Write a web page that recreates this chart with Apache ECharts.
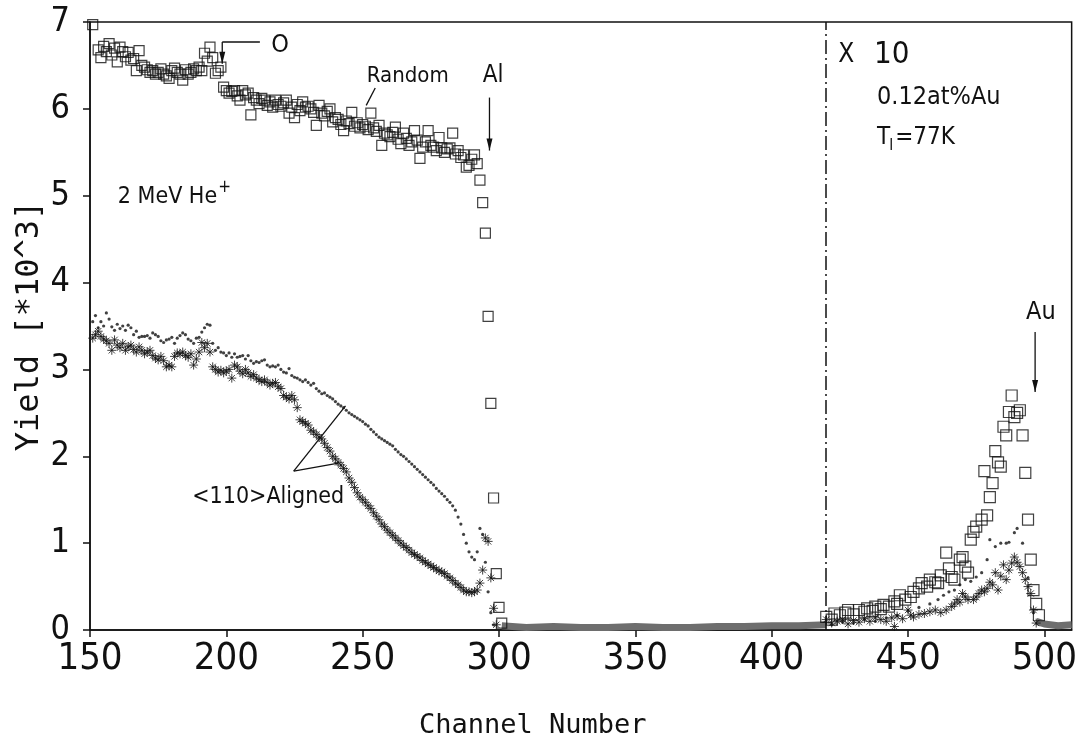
<!DOCTYPE html>
<html><head><meta charset="utf-8">
<script src="https://cdn.jsdelivr.net/npm/echarts@6/dist/echarts.min.js"></script>
<style>html,body{margin:0;padding:0;background:#fff}#c{width:1080px;height:755px}</style>
</head><body><div id="c"></div>
<script>
// ---------- data (channel, yield ×10^3) ----------
const xTicks = [150, 200, 250, 300, 350, 400, 450, 500];
const yTicks = [0, 1, 2, 3, 4, 5, 6, 7];

const randomPts = [[151,6.97],[153,6.68],[154,6.59],[155,6.72],[156,6.66],[157,6.75],[158,6.62],[159,6.70],[160,6.54],[161,6.71],[162,6.66],[163,6.60],[164,6.65],[165,6.56],[166,6.58],[167,6.44],[168,6.67],[169,6.50],[170,6.48],[171,6.45],[172,6.42],[173,6.44],[174,6.40],[175,6.42],[176,6.46],[177,6.40],[178,6.38],[179,6.35],[180,6.44],[181,6.47],[182,6.42],[183,6.40],[184,6.33],[185,6.45],[186,6.40],[187,6.42],[188,6.46],[189,6.44],[190,6.48],[191,6.44],[192,6.64],[193,6.55],[194,6.71],[195,6.59],[196,6.41],[197,6.44],[198,6.48],[199,6.25],[200,6.21],[201,6.18],[202,6.20],[203,6.21],[204,6.15],[205,6.10],[206,6.21],[207,6.16],[208,6.18],[209,5.93],[210,6.13],[211,6.10],[212,6.06],[213,6.12],[214,6.10],[215,6.04],[216,6.08],[217,6.02],[218,6.10],[219,6.05],[220,6.03],[221,6.07],[222,6.10],[223,5.95],[224,6.02],[225,5.90],[226,6.05],[227,5.98],[228,6.08],[229,6.02],[230,6.03],[231,6.00],[232,5.96],[233,5.81],[234,6.04],[235,5.95],[236,5.92],[237,5.97],[238,6.00],[239,5.85],[240,5.90],[241,5.88],[242,5.82],[243,5.75],[244,5.86],[245,5.83],[246,5.96],[247,5.80],[248,5.84],[249,5.78],[250,5.82],[251,5.80],[252,5.76],[253,5.95],[254,5.78],[255,5.74],[256,5.81],[257,5.58],[258,5.72],[259,5.70],[260,5.68],[261,5.73],[262,5.79],[263,5.65],[264,5.60],[265,5.72],[266,5.66],[267,5.58],[268,5.62],[269,5.75],[270,5.64],[271,5.43],[272,5.56],[273,5.62],[274,5.75],[275,5.58],[276,5.56],[277,5.52],[278,5.67],[279,5.55],[280,5.50],[281,5.54],[282,5.55],[283,5.72],[284,5.48],[285,5.52],[286,5.44],[287,5.47],[288,5.33],[289,5.35],[290,5.42],[291,5.47],[292,5.37],[293,5.18],[294,4.92],[295,4.57],[296,3.61],[297,2.61],[298,1.52],[299,0.65],[300,0.26],[301,0.08]];

const alignedStarPts = [[151,3.36],[152,3.40],[153,3.44],[154,3.38],[155,3.35],[156,3.33],[157,3.30],[158,3.22],[159,3.34],[160,3.28],[161,3.25],[162,3.30],[163,3.22],[164,3.26],[165,3.28],[166,3.23],[167,3.20],[168,3.26],[169,3.22],[170,3.18],[171,3.20],[172,3.22],[173,3.16],[174,3.13],[175,3.11],[176,3.15],[177,3.10],[178,3.03],[179,3.05],[180,3.03],[181,3.15],[182,3.19],[183,3.18],[184,3.20],[185,3.16],[186,3.14],[187,3.18],[188,3.05],[189,3.12],[190,3.20],[191,3.31],[192,3.25],[193,3.30],[194,3.20],[195,3.03],[196,3.00],[197,2.97],[198,2.99],[199,2.96],[200,2.98],[201,3.00],[202,2.90],[203,3.05],[204,3.03],[205,2.98],[206,2.95],[207,3.00],[208,2.96],[209,2.92],[210,2.94],[211,2.90],[212,2.88],[213,2.86],[214,2.88],[215,2.85],[216,2.82],[217,2.84],[218,2.85],[219,2.80],[220,2.78],[221,2.70],[222,2.68],[223,2.66],[224,2.70],[225,2.65],[226,2.56],[227,2.42],[228,2.40],[229,2.38],[230,2.36],[231,2.30],[232,2.28],[233,2.25],[234,2.22],[235,2.20],[236,2.15],[237,2.10],[238,2.06],[239,2.00],[240,1.97],[241,1.93],[242,1.90],[243,1.86],[244,1.82],[245,1.75],[246,1.70],[247,1.64],[248,1.58],[249,1.53],[250,1.50],[251,1.47],[252,1.43],[253,1.40],[254,1.35],[255,1.31],[256,1.27],[257,1.22],[258,1.19],[259,1.15],[260,1.12],[261,1.09],[262,1.06],[263,1.03],[264,1.00],[265,0.97],[266,0.95],[267,0.92],[268,0.89],[269,0.87],[270,0.85],[271,0.83],[272,0.80],[273,0.78],[274,0.76],[275,0.74],[276,0.72],[277,0.70],[278,0.68],[279,0.67],[280,0.65],[281,0.62],[282,0.60],[283,0.57],[284,0.54],[285,0.52],[286,0.49],[287,0.46],[288,0.44],[289,0.44],[290,0.43],[291,0.44],[292,0.46],[293,0.54],[294,0.69],[295,1.06],[296,1.02],[297,0.60],[298,0.25],[299,0.06]];

const alignedDotPts = [[151,3.55],[152,3.62],[153,3.48],[154,3.55],[155,3.50],[156,3.65],[157,3.58],[158,3.49],[159,3.45],[160,3.52],[161,3.47],[162,3.50],[163,3.45],[164,3.51],[165,3.48],[166,3.40],[167,3.44],[168,3.37],[169,3.38],[170,3.38],[171,3.39],[172,3.36],[173,3.42],[174,3.40],[175,3.38],[176,3.33],[177,3.31],[178,3.34],[179,3.35],[180,3.37],[181,3.30],[182,3.36],[183,3.39],[184,3.42],[185,3.40],[186,3.35],[187,3.33],[188,3.30],[189,3.36],[190,3.37],[191,3.43],[192,3.48],[193,3.52],[194,3.51],[195,3.30],[196,3.22],[197,3.25],[198,3.20],[199,3.19],[200,3.16],[201,3.19],[202,3.14],[203,3.18],[204,3.14],[205,3.15],[206,3.16],[207,3.12],[208,3.16],[209,3.10],[210,3.07],[211,3.09],[212,3.08],[213,3.10],[214,3.11],[215,3.05],[216,3.03],[217,3.04],[218,3.03],[219,3.05],[220,3.00],[221,2.97],[222,2.96],[223,3.01],[224,2.93],[225,2.91],[226,2.90],[227,2.88],[228,2.86],[229,2.88],[230,2.85],[231,2.82],[232,2.84],[233,2.78],[234,2.75],[235,2.72],[236,2.73],[237,2.70],[238,2.68],[239,2.66],[240,2.63],[241,2.60],[242,2.58],[243,2.56],[244,2.53],[245,2.50],[246,2.48],[247,2.46],[248,2.44],[249,2.42],[250,2.40],[251,2.37],[252,2.35],[253,2.31],[254,2.28],[255,2.25],[256,2.22],[257,2.20],[258,2.18],[259,2.16],[260,2.14],[261,2.12],[262,2.08],[263,2.05],[264,2.02],[265,2.00],[266,1.97],[267,1.94],[268,1.91],[269,1.88],[270,1.85],[271,1.82],[272,1.79],[273,1.76],[274,1.73],[275,1.70],[276,1.67],[277,1.63],[278,1.60],[279,1.57],[280,1.54],[281,1.50],[282,1.47],[283,1.43],[284,1.38],[285,1.30],[286,1.22],[287,1.10],[288,1.00],[289,0.90],[290,0.84],[291,0.81],[292,0.90],[293,1.17],[294,1.10],[295,0.78],[296,0.44],[297,0.20],[298,0.06]];

// ×10 region (Au signal)
const auRandomPts = [[420,0.15],[422,0.12],[423,0.19],[425,0.17],[427,0.20],[428,0.23],[430,0.18],[432,0.23],[434,0.21],[435,0.25],[437,0.22],[438,0.27],[440,0.24],[441,0.29],[443,0.27],[445,0.33],[446,0.30],[447,0.40],[449,0.35],[451,0.38],[452,0.44],[454,0.48],[455,0.54],[457,0.50],[458,0.58],[460,0.55],[461,0.54],[462,0.63],[464,0.89],[465,0.71],[466,0.61],[467,0.58],[469,0.81],[470,0.84],[471,0.73],[472,0.66],[473,1.04],[474,1.13],[475,1.19],[477,1.27],[478,1.83],[479,1.32],[480,1.53],[481,1.69],[482,2.06],[483,1.93],[484,1.88],[485,2.34],[486,2.24],[487,2.51],[488,2.70],[489,2.45],[490,2.50],[491,2.53],[492,2.24],[493,1.81],[494,1.27],[495,0.81],[496,0.46],[497,0.30],[498,0.17]];

const auStarPts = [[420,0.12],[422,0.08],[424,0.10],[426,0.12],[428,0.07],[430,0.11],[432,0.09],[434,0.13],[436,0.10],[438,0.14],[440,0.12],[442,0.10],[444,0.14],[445,0.04],[446,0.16],[448,0.13],[450,0.23],[451,0.17],[452,0.15],[454,0.18],[456,0.19],[458,0.21],[460,0.23],[462,0.20],[464,0.23],[466,0.27],[467,0.30],[468,0.35],[469,0.32],[470,0.42],[471,0.38],[472,0.35],[474,0.35],[475,0.38],[476,0.42],[477,0.46],[478,0.44],[479,0.48],[480,0.55],[481,0.52],[482,0.66],[483,0.46],[484,0.62],[485,0.75],[486,0.58],[487,0.69],[488,0.77],[489,0.84],[490,0.78],[491,0.73],[492,0.66],[493,0.58],[494,0.50],[495,0.42],[496,0.23],[497,0.08]];

const auDotPts = [[422,0.06],[426,0.09],[430,0.08],[434,0.12],[438,0.10],[442,0.14],[446,0.17],[450,0.22],[454,0.26],[458,0.30],[461,0.35],[463,0.40],[465,0.44],[467,0.46],[469,0.52],[471,0.58],[473,0.56],[475,0.61],[477,0.66],[479,0.81],[480,1.04],[482,0.96],[484,1.00],[486,1.00],[487,1.01],[489,1.12],[490,1.17],[492,1.00],[494,0.60],[496,0.20]];

// background (near-zero counts)
const bgLowPts = [[301,0.05],[310,0.03],[320,0.04],[330,0.03],[340,0.03],[350,0.04],[360,0.03],[370,0.03],[380,0.04],[390,0.04],[400,0.05],[410,0.05],[420,0.06]];
const bgHighPts = [[497,0.10],[500,0.07],[505,0.05],[510,0.06]];

const scaleBreakChannel = 420;

// ---------- chart ----------
const NARROW = "'Liberation Sans Narrow','DejaVu Sans Condensed','Roboto Condensed','Liberation Sans',sans-serif";
const MONO = "'DejaVu Sans Mono','Liberation Mono',monospace";
const INK = '#111';
const STAR = 'path://M5 0L5 10M0 5L10 5M1.5 1.5L8.5 8.5M1.5 8.5L8.5 1.5';

const chart = echarts.init(document.getElementById('c'), null, {renderer: 'canvas'});

const sq = (data, size) => ({type: 'scatter', data, symbol: 'rect', symbolSize: size,
  itemStyle: {color: 'rgba(0,0,0,0)', borderColor: INK, borderWidth: 1.2}, z: 3});
const star = (data) => ({type: 'scatter', data, symbol: STAR, symbolSize: 9,
  itemStyle: {color: 'rgba(0,0,0,0)', borderColor: INK, borderWidth: 1}, z: 3});
const dot = (data) => ({type: 'scatter', data, symbol: 'circle', symbolSize: 3.2,
  itemStyle: {color: INK}, z: 3});
const band = (data) => ({type: 'line', data, symbol: 'none', smooth: false,
  lineStyle: {color: '#6e6e6e', width: 7}, z: 2});

chart.setOption({
  animation: false,
  backgroundColor: '#fff',
  grid: {left: 90, right: 3, top: 22, bottom: 125, show: true, borderColor: INK, borderWidth: 1.5},
  xAxis: {
    type: 'value', min: 150, max: 510, interval: 50,
    name: 'Channel Number', nameLocation: 'middle', nameGap: 82,
    nameTextStyle: {fontFamily: MONO, fontSize: 27, color: INK, padding: [0, 96, 0, 0]},
    axisLine: {show: true, onZero: false, lineStyle: {color: INK, width: 1.5}},
    axisTick: {show: true, inside: false, length: 7, lineStyle: {color: INK, width: 1.5}},
    axisLabel: {fontFamily: NARROW, fontSize: 38, color: INK, margin: 10, showMaxLabel: false,
      formatter: v => xTicks.includes(v) ? String(v) : ''},
    splitLine: {show: false}
  },
  yAxis: {
    type: 'value', min: 0, max: 7, interval: 1,
    name: 'Yield [*10^3]', nameLocation: 'middle', nameGap: 44, nameRotate: 90, nameMoveOverlap: false,
    nameTextStyle: {fontFamily: MONO, fontSize: 32, color: INK},
    axisLine: {show: true, lineStyle: {color: INK, width: 1.5}},
    axisTick: {show: true, inside: false, length: 7, lineStyle: {color: INK, width: 1.5}},
    axisLabel: {fontFamily: NARROW, fontSize: 34, color: INK, margin: 20,
      formatter: v => yTicks.includes(v) ? String(v) : ''},
    splitLine: {show: false}
  },
  series: [
    band(bgLowPts), band(bgHighPts),
    sq(randomPts, 10), star(alignedStarPts), dot(alignedDotPts),
    sq(auRandomPts, 11), star(auStarPts), dot(auDotPts),
    {type: 'line', data: [], markLine: {silent: true, symbol: 'none', label: {show: false},
      lineStyle: {color: INK, width: 1.5, type: [14, 4, 2, 4]},
      data: [{xAxis: scaleBreakChannel}]}}
  ]
});

// ---------- annotations, anchored in data coordinates ----------
const P = (x, y) => chart.convertToPixel({gridIndex: 0}, [x, y]);
const ctx = document.createElement('canvas').getContext('2d');
const tw = (s, size) => { ctx.font = size + 'px ' + NARROW; return ctx.measureText(s).width; };
const g = [];
function textPx(px, py, s, size) {
  g.push({type: 'text', x: px, y: py, z: 10, style: {text: s, fontFamily: NARROW,
    fontSize: size, fill: INK, verticalAlign: 'middle', align: 'left'}});
}
function text(x, y, s, size) { const p = P(x, y); textPx(p[0], p[1], s, size); return p; }
function line(a, b) {
  const p = P(a[0], a[1]), q = P(b[0], b[1]);
  g.push({type: 'line', z: 10, shape: {x1: p[0], y1: p[1], x2: q[0], y2: q[1]}, style: {stroke: INK, lineWidth: 1.3}});
}
function arrowDown(x, y0, y1) {
  line([x, y0], [x, y1]);
  const t = P(x, y1);
  g.push({type: 'polygon', z: 10, shape: {points: [[t[0] - 3, t[1] - 12], [t[0] + 3, t[1] - 12], [t[0], t[1]]]}, style: {fill: INK}});
}
// O edge
line([198.5, 6.77], [212.3, 6.77]);
arrowDown(198.5, 6.77, 6.52);
text(216.5, 6.73, 'O', 25);
// Random
text(251.5, 6.38, 'Random', 22);
line([254.6, 6.24], [251.3, 6.04]);
// Al edge
text(294, 6.38, 'Al', 24);
arrowDown(296.5, 6.13, 5.52);
// beam
let p = text(160.2, 4.98, '2 MeV He', 23);
textPx(p[0] + tw('2 MeV He', 23) + 1, p[1] - 10, '+', 17);
// aligned
text(187.5, 1.53, '<110>Aligned', 23);
line([224.7, 1.83], [243.7, 2.58]);
line([224.7, 1.83], [241.1, 1.92]);
// x10 region
text(424.4, 6.62, 'X', 26);
text(437.5, 6.62, '10', 31);
text(438.6, 6.13, '0.12at%Au', 25);
p = text(438.6, 5.67, 'T', 24);
const tW = tw('T', 24);
textPx(p[0] + tW - 1, p[1] + 9, 'I', 15);
textPx(p[0] + tW + 5, p[1], '=77K', 24);
text(493.3, 3.66, 'Au', 25);
arrowDown(496.6, 3.43, 2.74);

chart.setOption({graphic: g});
</script>
</body></html>
